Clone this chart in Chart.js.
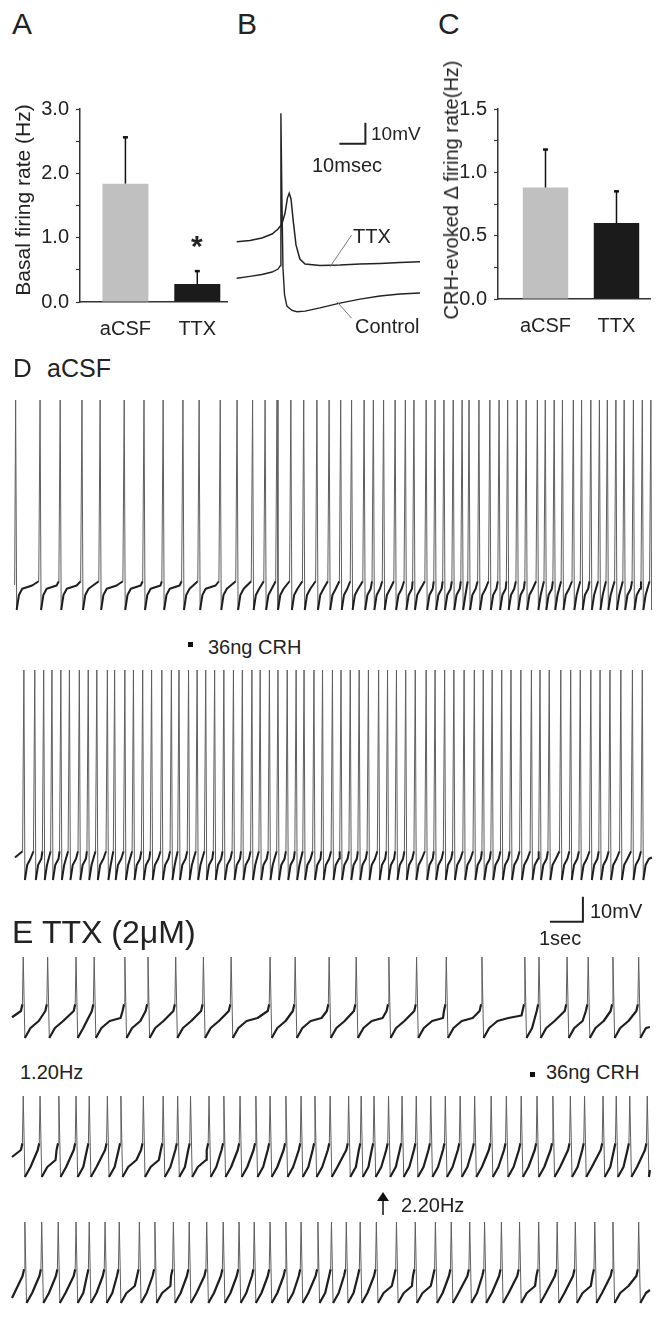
<!DOCTYPE html>
<html><head><meta charset="utf-8">
<script src="https://cdn.jsdelivr.net/npm/chart.js@4.4.1/dist/chart.umd.min.js"></script>
<style>
html,body{margin:0;padding:0;background:#fff;}
body{width:658px;height:1318px;position:relative;overflow:hidden;font-family:"Liberation Sans",Arial,Helvetica,sans-serif;color:#222;}
.t{position:absolute;white-space:nowrap;line-height:1;}
.r{position:absolute;white-space:nowrap;line-height:1;transform:translate(-50%,-50%) rotate(-90deg);}
</style></head><body>
<script>
// ---------- DATA ----------
// Panels A and C: bar groups
const groupLabels = ['aCSF', 'TTX'];
const basalRate = [1.84, 0.28];          // Hz
const basalRateErr = [0.72, 0.20];       // upper error
const basalMajorTicks = [0, 1, 2, 3];
const crhDelta = [0.88, 0.60];           // Hz
const crhDeltaErr = [0.30, 0.25];
const crhMajorTicks = [0, 0.5, 1, 1.5];

// Panel B: averaged spike waveforms (ms, mV relative)
const controlMs = [0, 5.1, 9.7, 13.6, 15.9, 16.7, 17.0, 17.4, 17.8, 18.4, 19.3, 21.3, 23.2, 26.3, 32.0, 39.7, 47.4, 55.1, 62.8, 70.5];
const controlMv = [15.9, 16.8, 17.7, 18.9, 20.3, 21.8, 94.5, 53.2, 20.8, 8.0, 2.7, 0.6, 0, 0.3, 1.8, 4.1, 6.0, 7.5, 8.4, 8.9];
const ttxMs = [0, 5.1, 9.7, 13.6, 15.9, 17.4, 18.6, 19.5, 20.2, 20.9, 21.7, 22.8, 24.3, 26.3, 32.0, 39.7, 47.4, 55.1, 62.8, 70.5];
const ttxMv = [33.3, 33.9, 35.1, 37.0, 39.4, 41.8, 47.0, 54.1, 56.4, 53.7, 43.7, 31.8, 25.1, 22.7, 22.0, 22.2, 22.7, 23.0, 23.4, 23.8];

// Panel D: spike times (s)
const dBeforeSpikes = [0.08, 0.82, 1.43, 2.09, 2.64, 3.37, 3.97, 4.55, 5.15, 5.64, 6.28, 6.79, 7.26, 7.64, 8.00, 8.42, 8.81, 9.21, 9.58, 9.93, 10.26, 10.64, 10.92, 11.23, 11.58, 11.89, 12.15, 12.52, 12.79, 13.06, 13.34, 13.61, 13.82, 14.12, 14.45, 14.73, 14.99, 15.28, 15.55, 15.89, 16.13, 16.40, 16.65, 16.98, 17.23, 17.51, 17.77, 18.01, 18.27, 18.52, 18.80, 19.07, 19.33];
const dAfterSpikes = [0.33, 0.66, 0.93, 1.18, 1.45, 1.71, 2.01, 2.28, 2.54, 2.86, 3.08, 3.39, 3.65, 3.93, 4.20, 4.51, 4.80, 5.03, 5.32, 5.58, 5.84, 6.11, 6.39, 6.68, 6.95, 7.24, 7.49, 7.77, 8.03, 8.31, 8.58, 8.82, 9.12, 9.38, 9.68, 9.94, 10.22, 10.49, 10.77, 11.08, 11.35, 11.62, 11.90, 12.19, 12.52, 12.79, 13.08, 13.36, 13.67, 13.98, 14.25, 14.52, 14.81, 15.09, 15.39, 15.71, 15.97, 16.25, 16.60, 16.90, 17.19, 17.51, 17.79, 18.09, 18.42, 18.77, 19.07];
// Panel E: spike times (s)
const eBeforeSpikes = [0.31, 1.05, 1.91, 2.46, 3.39, 4.09, 4.93, 5.77, 6.61, 7.79, 8.55, 9.58, 10.40, 11.39, 12.23, 13.13, 14.21, 15.51, 15.94, 16.79, 17.43, 18.18, 18.96];
const eCrhSpikes = [0.31, 0.82, 1.39, 1.91, 2.31, 2.86, 3.27, 3.95, 4.55, 4.99, 5.38, 5.94, 6.39, 6.88, 7.36, 7.79, 8.27, 8.73, 9.15, 9.61, 10.17, 10.55, 10.94, 11.38, 11.79, 12.22, 12.66, 13.10, 13.55, 13.99, 14.49, 14.95, 15.40, 15.88, 16.36, 16.89, 17.32, 17.88, 18.28, 18.69, 19.22];
const eLateSpikes = [0.36, 0.87, 1.37, 1.91, 2.31, 2.79, 3.22, 3.83, 4.30, 4.86, 5.34, 5.87, 6.37, 6.85, 7.31, 7.79, 8.27, 8.73, 9.24, 9.65, 10.10, 10.52, 11.01, 11.62, 12.19, 12.80, 13.28, 13.84, 14.29, 14.80, 15.35, 15.93, 16.49, 17.04, 17.63, 18.18, 18.96];
// waveform shapes: [offset s, mV above AHP trough]
const dSpikeShape = [[0, 84], [0.03, 0], [0.1, 6], [0.2, 8.5], [0.5, 9.8], [1.0, 10.8]];
const dPreSpike = [[-0.04, 11.5]];
const eSpikeShape = [[0, 32.4], [0.05, 0], [0.22, 4.0], [0.47, 6.8], [0.8, 8.0], [1.2, 9.0], [1.6, 9.8]];
const ePreSpike = [[-0.07, 10.8], [-0.025, 13.5]];
// trace start / end [s, mV]
const dBeforeEnds = [[0.05, 10], [19.35, 0]];
const dAfterEnds = [[0.06, 9], [19.36, 9]];
const eBeforeEnds = [[-0.03, 8.3], [19.3, 4.4]];
const eCrhEnds = [[-0.03, 8.0], [19.3, 2.8]];
const eLateEnds = [[-0.03, 2.0], [19.3, 5.2]];

// ---------- HELPERS ----------
Chart.defaults.font.family = '"Liberation Sans", Arial, Helvetica, sans-serif';
Chart.defaults.color = '#222';
function addCanvas(left, top, w, h) {
  const c = document.createElement('canvas');
  c.width = w; c.height = h;
  c.style.cssText = `position:absolute;left:${left}px;top:${top}px;width:${w}px;height:${h}px`;
  document.body.appendChild(c);
  return c;
}
function lab(text, x, baseline, size, extra) {
  const d = document.createElement('div');
  d.className = 't';
  d.textContent = text;
  d.style.left = x + 'px';
  d.style.top = (baseline - 0.8465 * size) + 'px';
  d.style.fontSize = size + 'px';
  if (extra) Object.assign(d.style, extra);
  document.body.appendChild(d);
}
function rot(text, cx, cy, size) {
  const d = document.createElement('div');
  d.className = 'r';
  d.textContent = text;
  d.style.left = cx + 'px'; d.style.top = cy + 'px'; d.style.fontSize = size + 'px';
  document.body.appendChild(d);
}
function box(x, y, w, h) {
  const d = document.createElement('div');
  d.style.cssText = `position:absolute;left:${x}px;top:${y}px;width:${w}px;height:${h}px;background:#111`;
  document.body.appendChild(d);
}

const errorBars = {
  id: 'errorBars',
  afterDatasetsDraw(chart, args, opts) {
    const ctx = chart.ctx, meta = chart.getDatasetMeta(0), ys = chart.scales.y;
    ctx.save();
    ctx.strokeStyle = '#111';
    meta.data.forEach((bar, i) => {
      const v = chart.data.datasets[0].data[i].y;
      const top = ys.getPixelForValue(v + opts.err[i]);
      ctx.lineWidth = 1.5;
      ctx.beginPath(); ctx.moveTo(bar.x, bar.y); ctx.lineTo(bar.x, top); ctx.stroke();
      ctx.lineWidth = 2.5;
      ctx.beginPath(); ctx.moveTo(bar.x - 2.5, top); ctx.lineTo(bar.x + 2.5, top); ctx.stroke();
    });
    ctx.restore();
  }
};

function barChart(canvas, values, errs, majors, ymax, step, yWidth, xMin, xMax, padRight) {
  return new Chart(canvas, {
    type: 'bar',
    data: { datasets: [{
      data: groupLabels.map((g, i) => ({ x: i + 1, y: values[i] })),
      backgroundColor: ['#c0c0c0', '#1b1b1b'],
      borderWidth: 0, barPercentage: 0.8, categoryPercentage: 0.8
    }] },
    options: {
      responsive: false, animation: false, events: [],
      layout: { padding: { top: 10, right: padRight, left: 0, bottom: 0 } },
      plugins: { legend: { display: false }, tooltip: { enabled: false }, errorBars: { err: errs } },
      scales: {
        x: {
          type: 'linear', min: xMin, max: xMax, offset: false,
          grid: { display: false, drawTicks: false, offset: false },
          border: { display: true, color: '#333', width: 1.5 },
          afterBuildTicks: a => { a.ticks = groupLabels.map((g, i) => ({ value: i + 1 })); },
          ticks: { callback: v => groupLabels[v - 1], font: { size: 20 }, color: '#222', padding: 15, maxRotation: 0, autoSkip: false },
          afterFit: a => { a.height = 40; }
        },
        y: {
          min: 0, max: ymax,
          grid: { drawOnChartArea: false, drawTicks: true, tickLength: 4, color: '#333', tickWidth: 1.2 },
          border: { display: true, color: '#333', width: 1.5 },
          ticks: { stepSize: step, autoSkip: false, callback: v => majors.some(m => Math.abs(m - v) < 1e-9) ? v.toFixed(1) : '', font: { size: 20 }, color: '#222', padding: 7 },
          afterFit: a => { a.width = yWidth; }
        }
      }
    },
    plugins: [errorBars]
  });
}

function buildTrace(spikes, shape, pre, ends) {
  const pts = [{ x: ends[0][0], y: ends[0][1] }], peaks = new Set();
  const tEnd = ends[1][0];
  spikes.forEach((t, i) => {
    const next = i + 1 < spikes.length ? spikes[i + 1] : tEnd + 5;
    pre.forEach(([dt, v]) => { const x = t + dt; if (x > pts[pts.length - 1].x) pts.push({ x, y: v }); });
    peaks.add(pts.length);
    pts.push({ x: t, y: shape[0][1] });
    const limit = next + pre[0][0] - 0.02;
    for (let k = 1; k < shape.length; k++) {
      const x = t + shape[k][0];
      if (x < limit && x < tEnd) pts.push({ x, y: shape[k][1] });
    }
  });
  pts.push({ x: tEnd, y: ends[1][1] });
  return { pts, peaks };
}

const scaleBar = {
  id: 'scaleBar',
  afterDraw(chart, args, o) {
    if (!o || !o.bars) return;
    const ctx = chart.ctx, xs = chart.scales.x, ys = chart.scales.y;
    ctx.save();
    o.bars.forEach(b => {
      ctx.strokeStyle = b.color; ctx.lineWidth = b.width;
      ctx.beginPath();
      b.pts.forEach((p, i) => {
        const X = xs.getPixelForValue(p[0]), Y = ys.getPixelForValue(p[1]);
        if (i === 0) ctx.moveTo(X, Y); else ctx.lineTo(X, Y);
      });
      ctx.stroke();
    });
    ctx.restore();
  }
};

// trace chart: px/s = 33, px/mV = 2.5; canvas x 10..655
const TX0 = -3 / 33, TX1 = 642 / 33;
function traceChart(top, height, troughY, spikes, shape, pre, ends, baseW, bars) {
  const c = addCanvas(10, top, 645, height);
  const { pts, peaks } = buildTrace(spikes, shape, pre, ends);
  const ymax = (troughY - top) / 2.5, ymin = (troughY - top - height) / 2.5;
  const isSpike = ctx => peaks.has(ctx.p0DataIndex) || peaks.has(ctx.p1DataIndex);
  return new Chart(c, {
    type: 'line',
    data: { datasets: [{
      data: pts, borderColor: '#1e1e1e', borderWidth: baseW, pointRadius: 0, tension: 0,
      borderJoinStyle: 'round',
      segment: { borderWidth: ctx => isSpike(ctx) ? 1 : baseW, borderColor: ctx => isSpike(ctx) ? '#5e5e5e' : '#1e1e1e' }
    }] },
    options: {
      responsive: false, animation: false, events: [],
      plugins: { legend: { display: false }, tooltip: { enabled: false }, scaleBar: { bars: bars || [] } },
      scales: { x: { type: 'linear', display: false, min: TX0, max: TX1 }, y: { display: false, min: ymin, max: ymax } }
    },
    plugins: [scaleBar]
  });
}

// ---------- PANEL A ----------
barChart(addCanvas(0, 90, 232, 252), basalRate, basalRateErr, basalMajorTicks, 3, 0.5, 80, 0.368, 2.424, 4);
// ---------- PANEL C ----------
barChart(addCanvas(420, 90, 238, 249), crhDelta, crhDeltaErr, crhMajorTicks, 1.5, 0.25, 78, 0.331, 2.472, 8);

// ---------- PANEL B ----------
new Chart(addCanvas(230, 100, 200, 230), {
  type: 'line',
  data: { datasets: [
    { data: ttxMs.map((x, i) => ({ x, y: ttxMv[i] })), borderColor: '#222', borderWidth: 1.5, pointRadius: 0, tension: 0 },
    { data: controlMs.map((x, i) => ({ x, y: controlMv[i] })), borderColor: '#222', borderWidth: 1.4, pointRadius: 0, tension: 0 }
  ] },
  options: {
    responsive: false, animation: false, events: [],
    plugins: { legend: { display: false }, tooltip: { enabled: false },
      scaleBar: { bars: [
        { pts: [[39.5, 80], [49.5, 80], [49.5, 90]], color: '#222', width: 2 },
        { pts: [[35.9, 21.4], [44.2, 36.5]], color: '#777', width: 1 },
        { pts: [[38.5, 4.8], [44.2, -3.1]], color: '#777', width: 1 }
      ] } },
    scales: { x: { type: 'linear', display: false, min: -2.58, max: 74.35 }, y: { display: false, min: -8.71, max: 100.8 } }
  },
  plugins: [scaleBar]
});

// ---------- PANEL D ----------
traceChart(392, 228, 610, dBeforeSpikes, dSpikeShape, dPreSpike, dBeforeEnds, 2);
traceChart(660, 230, 880, dAfterSpikes, dSpikeShape, dPreSpike, dAfterEnds, 2);
// ---------- PANEL E ----------
traceChart(893, 155, 1038, eBeforeSpikes, eSpikeShape, ePreSpike, eBeforeEnds, 2.2,
  [{ pts: [[16.27, 46.5], [17.27, 46.5], [17.27, 56.5]], color: '#222', width: 2 }]);
traceChart(1090, 97, 1177, eCrhSpikes, eSpikeShape, ePreSpike, eCrhEnds, 2.2);
traceChart(1215, 98, 1303, eLateSpikes, eSpikeShape, ePreSpike, eLateEnds, 2.2);

// ---------- TEXT ----------
lab('A', 12, 34, 30);
lab('B', 237, 34, 30);
lab('C', 438, 34, 30);
rot('Basal firing rate (Hz)', 22, 200, 21);
rot('CRH-evoked \u0394 firing rate(Hz)', 451, 190, 20);
lab('*', 191, 256, 30, { fontWeight: 'bold' });
lab('10mV', 371, 140, 19);
lab('10msec', 312, 172, 20);
lab('TTX', 353, 243, 20);
lab('Control', 355, 333, 20);
lab('D', 13, 377, 26);
lab('aCSF', 47, 377, 25);
box(188, 642, 5, 5);
lab('36ng CRH', 208, 654, 20);
lab('E', 12, 943, 32);
lab('TTX (2\u03bcM)', 42, 943, 32);
lab('10mV', 590, 918, 20);
lab('1sec', 539, 945, 20);
lab('1.20Hz', 20, 1079, 20);
box(530, 1072, 5, 5);
lab('36ng CRH', 546, 1079, 20);
lab('2.20Hz', 401, 1212, 20);
// arrow
const svgNS = 'http://www.w3.org/2000/svg';
const svg = document.createElementNS(svgNS, 'svg');
svg.setAttribute('width', '20'); svg.setAttribute('height', '28');
svg.style.cssText = 'position:absolute;left:373px;top:1190px;';
svg.innerHTML = '<polygon points="10,2 4,11 16,11" fill="#111"/><line x1="10" y1="10" x2="10" y2="25" stroke="#111" stroke-width="1.5"/>';
document.body.appendChild(svg);
</script>
</body></html>
